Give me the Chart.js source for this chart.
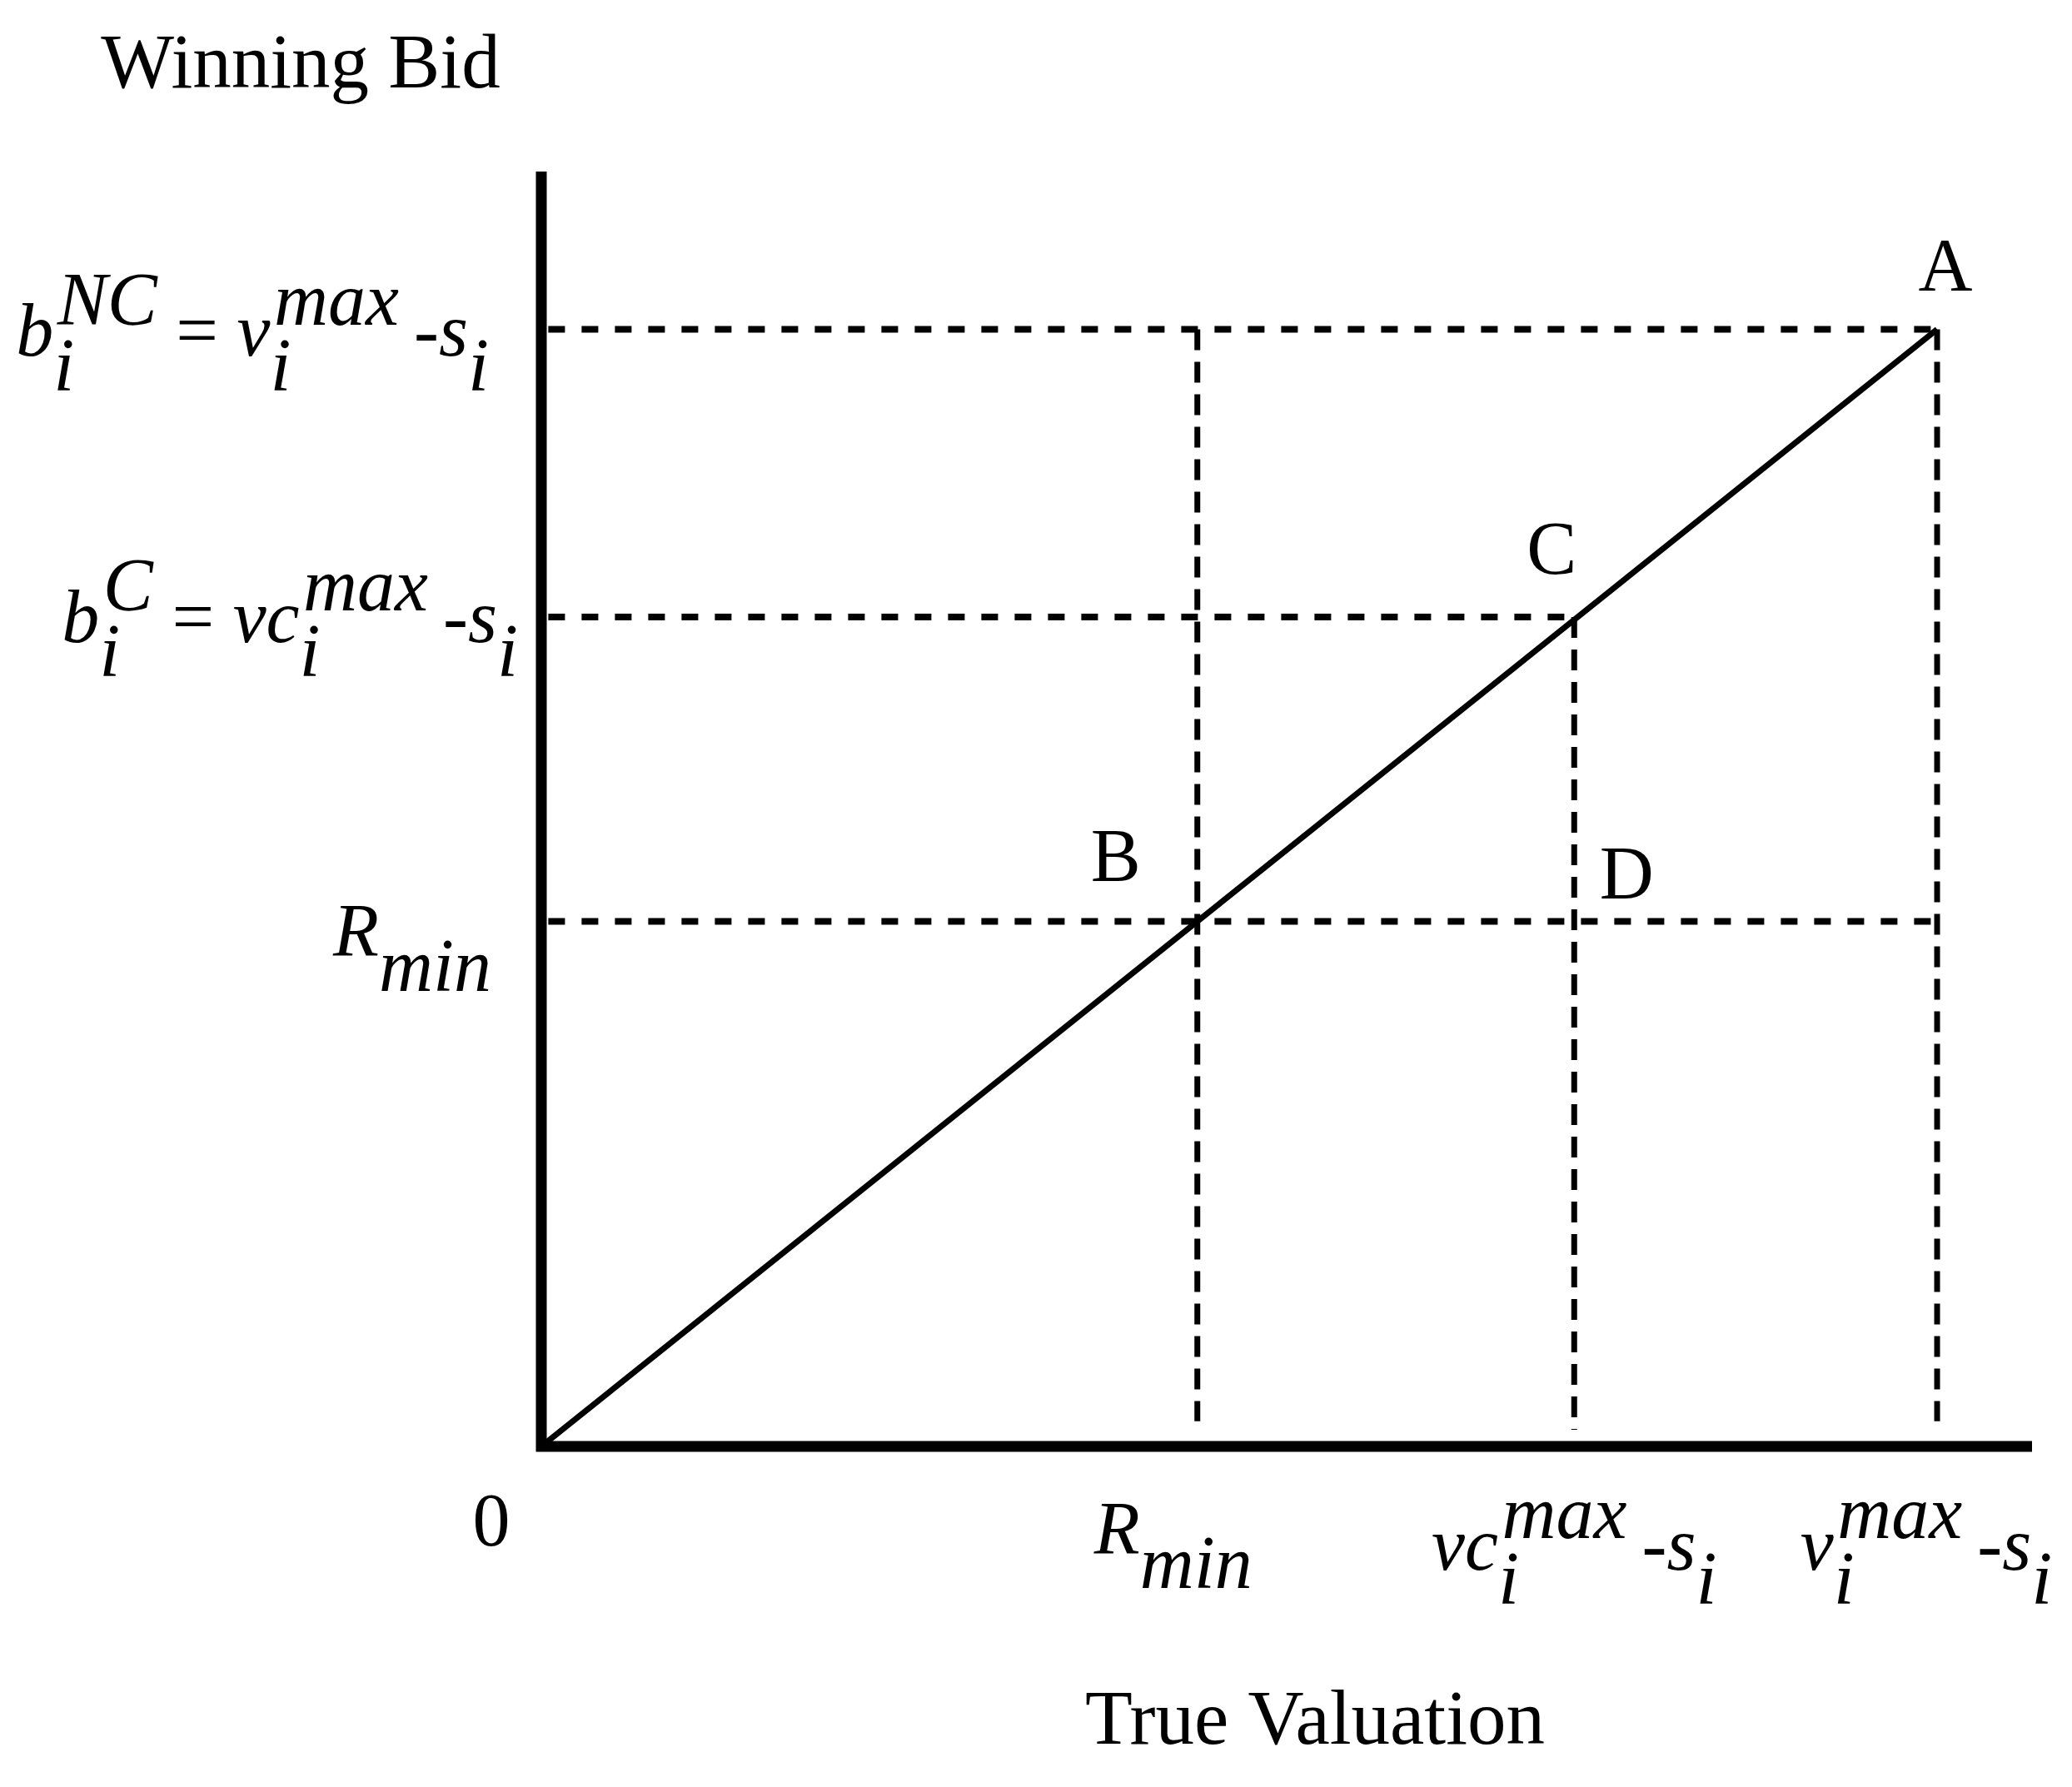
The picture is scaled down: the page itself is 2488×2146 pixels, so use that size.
<!DOCTYPE html>
<html>
<head>
<meta charset="utf-8">
<title>Winning Bid vs True Valuation</title>
<script src="https://cdn.jsdelivr.net/npm/chart.js@4.4.0/dist/chart.umd.min.js"></script>
<style>
  html, body { margin: 0; padding: 0; background: #fff; }
  canvas { display: block; }
</style>
</head>
<body>
<canvas id="myChart" width="2488" height="2146"></canvas>
<script>
// values (arbitrary units, origin at the axis corner)
const xTickValues = [0, 4.7, 7.4, 10];
const xTickLabels = ["0", "R_{min}", "vc_{i}^{max}\u2009-s_{i}", "v_{i}^{max}\u2009-s_{i}"];
const yTickValues = [8, 5.94, 3.76];
const yTickLabels = ["b_{i}^{NC} = v_{i}^{max}\u2009-s_{i}", "b_{i}^{C} = vc_{i}^{max}\u2009-s_{i}", "R_{min}"];

// the bid line from the origin up to A
const bidLineX = [0, 10];
const bidLineY = [0, 8];

const pointNames = ["A", "B", "C", "D"];
const pointX = [10, 4.7, 7.4, 7.4];
const pointY = [8, 3.76, 5.94, 3.76];

// dashed guides
const hGuideY = [8, 5.94, 3.76];
const hGuideFrom = [0.05, 0.05, 0.05];
const hGuideTo = [10, 7.4, 10];
const vGuideX = [4.7, 7.4, 10];
const vGuideFrom = [8, 5.94, 8];
const vGuideTo = [0.18, 0.12, 0.18];

const xAxisEnd = 10.68;
const yAxisEnd = 9.13;

const xTitle = "True Valuation";
const yTitle = "Winning Bid";

// styling / placement
const FONT = '"Liberation Serif", "Times New Roman", serif';
const TEXT_SIZE = 90;
const TITLE_SIZE = 93;
const SCRIPT_SCALE = 1.0;
const SUB_SHIFT = 0.46;
const SUP_SHIFT = 0.42;
const SUP_KERN = 0.05;
const xTickDrop = [119, 129, 148, 148];
const xTickNudge = [-60, -29, 0, -13];
const yTickDrop = [32, 30, 42];
const yTickNudge = [-63, -28, -60];
const pointNudge = [[10, -46], [-98, -48], [-27, -52], [63, -27]];

function parseMath(str) {
    const parts = [];
    let run = "";
    let i = 0;
    while (i < str.length) {
        const ch = str[i];
        if ((ch === "_" || ch === "^") && str[i + 1] === "{") {
            if (run) { parts.push({ text: run, kind: "base" }); run = ""; }
            const close = str.indexOf("}", i);
            parts.push({ text: str.slice(i + 2, close), kind: ch === "_" ? "sub" : "sup" });
            i = close + 1;
        } else {
            run += ch;
            i++;
        }
    }
    if (run) parts.push({ text: run, kind: "base" });
    return parts;
}

function layoutMath(ctx, str, size) {
    const items = [];
    const parts = parseMath(str);
    let x = 0;
    let subStart = 0;
    let subWidth = 0;
    for (let p = 0; p < parts.length; p++) {
        const part = parts[p];
        if (part.kind === "base") {
            part.text.split(/([A-Za-z]+)/).forEach(function (piece) {
                if (!piece) return;
                const italic = /[A-Za-z]/.test(piece);
                const font = (italic ? "italic " : "") + size + "px " + FONT;
                ctx.font = font;
                items.push({ text: piece, font: font, x: x, dy: 0 });
                x += ctx.measureText(piece).width;
            });
        } else {
            const font = "italic " + (size * SCRIPT_SCALE) + "px " + FONT;
            ctx.font = font;
            const w = ctx.measureText(part.text).width;
            if (part.kind === "sub") {
                subStart = x;
                subWidth = w;
                items.push({ text: part.text, font: font, x: x, dy: size * SUB_SHIFT });
                x += w;
            } else {
                // superscript stacked over a preceding subscript
                const stacked = p > 0 && parts[p - 1].kind === "sub";
                const start = (stacked ? subStart : x) + size * SUP_KERN;
                items.push({ text: part.text, font: font, x: start, dy: -size * SUP_SHIFT });
                x = stacked ? Math.max(subStart + subWidth, start + w) : start + w;
            }
        }
    }
    return { items: items, width: x };
}

function drawLayout(ctx, lay, left, baseline) {
    lay.items.forEach(function (it) {
        ctx.font = it.font;
        ctx.fillText(it.text, left + it.x, baseline + it.dy);
    });
}

const labelPlugin = {
    id: "mathLabels",
    afterDatasetsDraw(chart) {
        const ctx = chart.ctx;
        const xs = chart.scales.x;
        const ys = chart.scales.y;
        ctx.save();
        ctx.fillStyle = "#000";
        ctx.textAlign = "left";
        ctx.textBaseline = "alphabetic";

        // tick labels under the x axis
        xTickValues.forEach(function (v, i) {
            const lay = layoutMath(ctx, xTickLabels[i], TEXT_SIZE);
            const cx = xs.getPixelForValue(v) + xTickNudge[i];
            drawLayout(ctx, lay, cx - lay.width / 2, ys.getPixelForValue(0) + xTickDrop[i]);
        });

        // tick labels left of the y axis
        yTickValues.forEach(function (v, i) {
            const lay = layoutMath(ctx, yTickLabels[i], TEXT_SIZE);
            const right = xs.getPixelForValue(0) + yTickNudge[i];
            drawLayout(ctx, lay, right - lay.width, ys.getPixelForValue(v) + yTickDrop[i]);
        });

        // point names
        ctx.font = TEXT_SIZE + "px " + FONT;
        ctx.textAlign = "center";
        pointNames.forEach(function (name, i) {
            ctx.fillText(name,
                xs.getPixelForValue(pointX[i]) + pointNudge[i][0],
                ys.getPixelForValue(pointY[i]) + pointNudge[i][1]);
        });

        // axis titles
        ctx.font = TITLE_SIZE + "px " + FONT;
        ctx.fillText(yTitle, 361, 105);
        ctx.fillText(xTitle, 1579, 2094);
        ctx.restore();
    }
};

const datasets = [];

hGuideY.forEach(function (y, i) {
    datasets.push({
        data: [{ x: hGuideFrom[i], y: y }, { x: hGuideTo[i], y: y }],
        borderColor: "#000",
        borderWidth: 8,
        borderDash: [20, 20],
        pointRadius: 0,
        showLine: true,
        clip: false,
    });
});

vGuideX.forEach(function (x, i) {
    datasets.push({
        data: [{ x: x, y: vGuideFrom[i] }, { x: x, y: vGuideTo[i] }],
        borderColor: "#000",
        borderWidth: 7,
        borderDash: [25, 14],
        pointRadius: 0,
        showLine: true,
        clip: false,
    });
});

datasets.push({
    data: bidLineX.map(function (x, i) { return { x: x, y: bidLineY[i] }; }),
    borderColor: "#000",
    borderWidth: 7,
    pointRadius: 0,
    showLine: true,
    clip: false,
});

// heavy axes drawn as one L-shaped line
datasets.push({
    data: [{ x: 0, y: yAxisEnd }, { x: 0, y: 0 }, { x: xAxisEnd, y: 0 }],
    borderColor: "#000",
    borderWidth: 13,
    borderJoinStyle: "miter",
    borderCapStyle: "butt",
    pointRadius: 0,
    showLine: true,
    clip: false,
});

const ctx = document.getElementById("myChart").getContext("2d");
const chart = new Chart(ctx, {
    type: "scatter",
    data: { datasets: datasets },
    options: {
        responsive: false,
        animation: false,
        devicePixelRatio: 1,
        layout: { padding: { left: 650, top: 206, right: 48, bottom: 409 } },
        scales: {
            x: { type: "linear", display: false, min: 0, max: xAxisEnd },
            y: { type: "linear", display: false, min: 0, max: yAxisEnd },
        },
        plugins: {
            legend: { display: false },
            tooltip: { enabled: false },
        },
    },
    plugins: [labelPlugin],
});
</script>
</body>
</html>
